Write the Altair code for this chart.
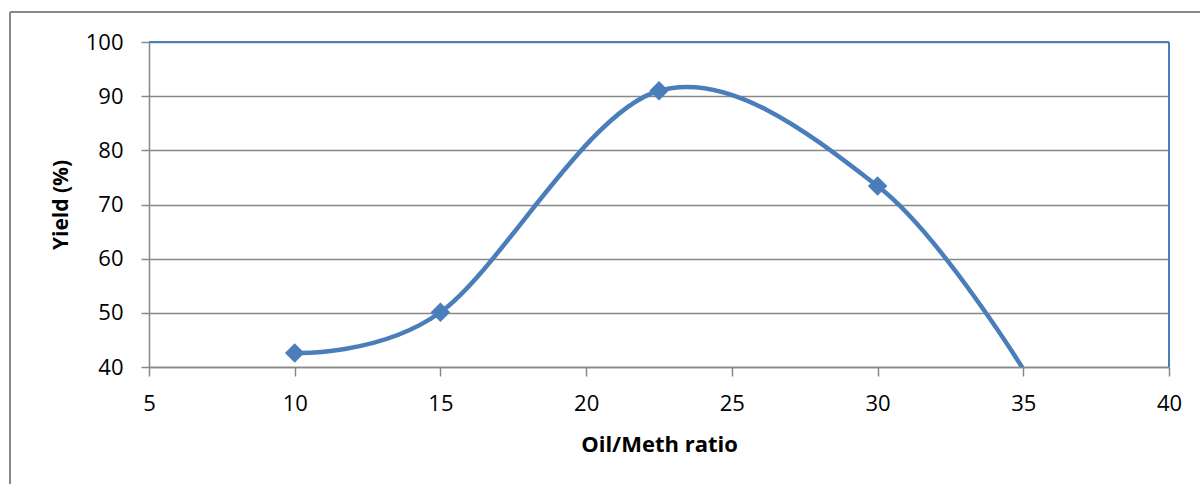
import altair as alt
import pandas as pd

# Biodiesel yield against oil/methanol ratio
ratio = [10, 15, 22.5, 30, 35]
yield_pct = [42.6, 50.1, 91.0, 73.4, 39.6]

BLUE = "#4a7ebb"
GREY = "#888888"
FONT = "Open Sans"

W, H = 1020, 325

df = pd.DataFrame({"ratio": ratio, "yield": yield_pct})

x_enc = alt.X(
    "ratio:Q",
    scale=alt.Scale(domain=[5, 40], nice=False),
    axis=alt.Axis(
        values=[5, 10, 15, 20, 25, 30, 35, 40],
        title="Oil/Meth ratio",
        grid=False,
        domainColor=GREY,
        domainWidth=1.5,
        tickColor=GREY,
        tickWidth=1.5,
        tickSize=9,
        labelFont=FONT,
        labelFontSize=22,
        labelColor="#000000",
        labelBaseline="alphabetic",
        labelPadding=34,
        labelFlush=False,
        titleFont=FONT,
        titleFontSize=22,
        titleFontWeight="bold",
        titleColor="#000000",
        titleX=W / 2,
        titleY=77,
        titleBaseline="middle",
    ),
)
y_enc = alt.Y(
    "yield:Q",
    scale=alt.Scale(domain=[40, 100], nice=False),
    axis=alt.Axis(
        values=[40, 50, 60, 70, 80, 90, 100],
        title="Yield (%)",
        grid=True,
        gridColor=GREY,
        gridWidth=1.5,
        domainColor=GREY,
        domainWidth=1.5,
        tickColor=GREY,
        tickWidth=1.5,
        tickSize=8,
        labelFont=FONT,
        labelFontSize=22,
        labelColor="#000000",
        labelPadding=18,
        labelBaseline="middle",
        labelFlush=False,
        titleFont=FONT,
        titleFontSize=21,
        titleFontWeight="bold",
        titleColor="#000000",
        titleAngle=270,
        titleX=-88,
        titleY=H / 2,
        titleAlign="center",
        titleBaseline="middle",
    ),
)

curve = (
    alt.Chart(df)
    .mark_line(color=BLUE, strokeWidth=4.5, interpolate="cardinal", tension=0, clip=True)
    .encode(x=x_enc, y=y_enc)
)

markers = (
    alt.Chart(df)
    .transform_filter("datum.yield >= 40")
    .mark_point(shape="diamond", filled=True, color=BLUE, opacity=1, size=380)
    .encode(x="ratio:Q", y="yield:Q")
)

# blue plot-area border on the top and right edges
top_edge = alt.Chart(df).mark_rule(color=BLUE, strokeWidth=1.5).encode(
    x=alt.value(0), x2=alt.value(W), y=alt.value(0)
)
right_edge = alt.Chart(df).mark_rule(color=BLUE, strokeWidth=1.5).encode(
    x=alt.value(W), y=alt.value(0), y2=alt.value(H)
)

# grey outline of the chart area
frame_top = alt.Chart(df).mark_rule(color=GREY, strokeWidth=2).encode(
    x=alt.value(-139), x2=alt.value(1060), y=alt.value(-30)
)
frame_left = alt.Chart(df).mark_rule(color=GREY, strokeWidth=2).encode(
    x=alt.value(-139), y=alt.value(-30), y2=alt.value(460)
)

chart = (
    alt.layer(curve, top_edge, right_edge, markers, frame_top, frame_left)
    .properties(
        width=W,
        height=H,
        autosize=alt.AutoSizeParams(type="none"),
        padding={"left": 149, "top": 42, "right": 31, "bottom": 117},
        background="white",
    )
    .configure_view(stroke=None)
)

chart.save("out.html", embed_options={"renderer": "svg", "actions": False})
